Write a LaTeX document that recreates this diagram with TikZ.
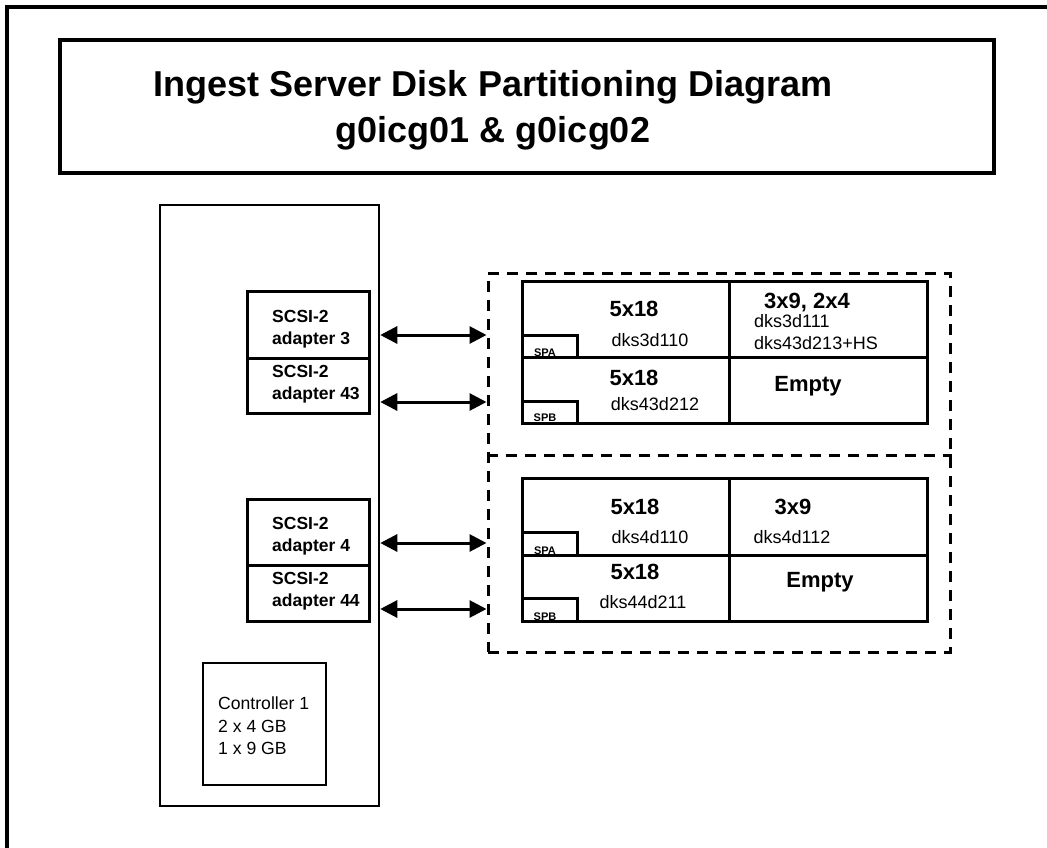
\documentclass[tikz,border=0pt]{standalone}
\usepackage{fontspec}
\setmainfont{Liberation Sans}
\usetikzlibrary{arrows.meta}

\begin{document}
\begin{tikzpicture}[x=1pt, y=-1pt,
    every node/.style={draw, rectangle, inner sep=0pt},
    frame/.style={line width=4pt},
    unit/.style={line width=2.5pt},
    adapter/.style={line width=3pt, minimum width=122pt},
    encl/.style={line width=3pt, dash pattern=on 11pt off 8pt},
    cell/.style={line width=3pt},
    sptag/.style={line width=3pt, minimum width=55pt},
    txt/.style={draw=none},
    hdr/.style={txt, align=center, font=\fontsize{36}{46}\selectfont\bfseries},
    adtxt/.style={txt, align=left, anchor=west, font=\fontsize{17.5}{22}\selectfont\bfseries},
    ctltxt/.style={txt, align=left, anchor=west, font=\fontsize{17.6}{22.5}\selectfont},
    captxt/.style={txt, font=\fontsize{22}{26}\selectfont\bfseries},
    devtxt/.style={txt, font=\fontsize{18}{22}\selectfont},
    tagtxt/.style={txt, font=\fontsize{11}{12}\selectfont\bfseries},
    link/.style={{Triangle[length=17pt,width=17pt]}-{Triangle[length=17pt,width=17pt]}, line width=3pt}
]
\useasboundingbox (0,0) rectangle (1047,848);
\draw[frame, line join=miter] (7,900) -- (7,7) -- (1100,7);

% title
\node[frame, minimum width=934pt, minimum height=133pt] (title) at (527,106.5) {};
\node[hdr] (ttl) at (493,110) {Ingest Server Disk Partitioning Diagram\\g0icg01 \& g0icg02};

% server
\node[unit, minimum width=219pt, minimum height=601pt] (server) at (269.5,505.5) {};
\node[adapter, minimum height=67pt] (ad3) at (308,324.5) {};
\node[adapter, minimum height=55pt] (ad43) at (308,385.5) {};
\node[adapter, minimum height=66pt] (ad4) at (308,532) {};
\node[adapter, minimum height=56pt] (ad44) at (308,593) {};
\node[adtxt] (tad3) at (272,329) {SCSI-2\\adapter 3};
\node[adtxt] (tad43) at (272,384) {SCSI-2\\adapter 43};
\node[adtxt] (tad4) at (272,536) {SCSI-2\\adapter 4};
\node[adtxt] (tad44) at (272,591) {SCSI-2\\adapter 44};
\node[unit, minimum width=123pt, minimum height=122pt] (ctrl) at (264.5,724) {};
\node[ctltxt] (tctrl) at (218,726) {Controller 1\\2 x 4 GB\\1 x 9 GB};

% disk enclosures
\node[encl, minimum width=462pt, minimum height=379pt] (enc) at (719,462.5) {};
\draw[encl] (enc.west |- 0,455) -- (enc.east |- 0,455);

\node[tagtxt] (tspa3) at (545,353) {SPA};
\node[tagtxt] (tspb3) at (545,418) {SPB};
\node[tagtxt] (tspa4) at (545,551) {SPA};
\node[tagtxt] (tspb4) at (545,617) {SPB};

\node[cell, minimum width=207pt, minimum height=76pt] (d3a) at (625.5,319) {};
\node[cell, minimum width=198pt, minimum height=76pt] (d3b) at (828,319) {};
\node[cell, minimum width=207pt, minimum height=66pt] (d3c) at (625.5,390) {};
\node[cell, minimum width=198pt, minimum height=66pt] (d3d) at (828,390) {};
\node[cell, minimum width=207pt, minimum height=77pt] (d4a) at (625.5,516.5) {};
\node[cell, minimum width=198pt, minimum height=77pt] (d4b) at (828,516.5) {};
\node[cell, minimum width=207pt, minimum height=66pt] (d4c) at (625.5,588) {};
\node[cell, minimum width=198pt, minimum height=66pt] (d4d) at (828,588) {};

\node[sptag, minimum height=22pt] (spa3) at (549.5,346) {};
\node[sptag, minimum height=22pt] (spb3) at (549.5,412) {};
\node[sptag, minimum height=23pt] (spa4) at (549.5,543.5) {};
\node[sptag, minimum height=23pt] (spb4) at (549.5,609.5) {};

\node[captxt] (c3a) at (634,309) {5x18};
\node[devtxt] (v3a) at (650,340) {dks3d110};
\node[captxt] (c3b) at (807,303) {3x9, 2x4};
\node[devtxt, anchor=west] (v3b) at (754,321) {dks3d111};
\node[devtxt, anchor=west] (w3b) at (754,343) {dks43d213+HS};
\node[captxt] (c3c) at (634,378) {5x18};
\node[devtxt] (v3c) at (655,404) {dks43d212};
\node[captxt] (c3d) at (808,386) {Empty};

\node[captxt] (c4a) at (635,507) {5x18};
\node[devtxt] (v4a) at (650,537) {dks4d110};
\node[captxt] (c4b) at (793,507) {3x9};
\node[devtxt] (v4b) at (792,537) {dks4d112};
\node[captxt] (c4c) at (635,572) {5x18};
\node[devtxt] (v4c) at (643,602) {dks44d211};
\node[captxt] (c4d) at (820,582) {Empty};

% SCSI links
\coordinate (a3) at (0,335);
\coordinate (a43) at (0,402);
\coordinate (a4) at (0,543);
\coordinate (a44) at (0,609);
\draw[link] (server.east |- a3) -- (enc.west |- a3);
\draw[link] (server.east |- a43) -- (enc.west |- a43);
\draw[link] (server.east |- a4) -- (enc.west |- a4);
\draw[link] (server.east |- a44) -- (enc.west |- a44);
\end{tikzpicture}
\end{document}
